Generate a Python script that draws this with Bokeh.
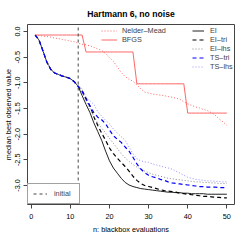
from bokeh.plotting import figure
from bokeh.models import Range1d, FixedTicker, Legend, LegendItem
from bokeh.embed import file_html
from bokeh.resources import INLINE

# ---------------- data ----------------
n_evals = list(range(1, 51))
n_init = 12

x_ticks = [0, 10, 20, 30, 40, 50]
x_tick_labels = ["0", "10", "20", "30", "40", "50"]
y_ticks = [-3.0, -2.5, -2.0, -1.5, -1.0, -0.5, 0.0]
y_tick_labels = ["-3.0", "-2.5", "-2.0", "-1.5", "-1.0", "-0.5", "0.0"]

nelder_mead = [-0.07, -0.08, -0.09, -0.10, -0.11, -0.13, -0.14, -0.16, -0.17, -0.19,
               -0.20, -0.23, -0.25, -0.26, -0.28, -0.31, -0.34, -0.37, -0.43, -0.51,
               -0.58, -0.69, -0.80, -0.88, -0.93, -0.97, -1.04, -1.12, -1.18, -1.20,
               -1.22, -1.23, -1.24, -1.25, -1.27, -1.28, -1.30, -1.32, -1.37, -1.41,
               -1.44, -1.47, -1.49, -1.52, -1.54, -1.58, -1.63, -1.70, -1.76, -1.83]

bfgs = [-0.07, -0.07, -0.07, -0.07, -0.07, -0.07, -0.07, -0.07, -0.07, -0.07,
        -0.07, -0.07, -0.07, -0.40, -0.40, -0.40, -0.40, -0.40, -0.40, -0.40,
        -0.40, -0.40, -0.40, -0.40, -0.40, -0.40, -1.02, -1.02, -1.02, -1.02,
        -1.02, -1.02, -1.02, -1.02, -1.02, -1.02, -1.02, -1.02, -1.02, -1.59,
        -1.59, -1.59, -1.59, -1.59, -1.59, -1.59, -1.59, -1.59, -1.59, -1.59]

initial_design = [-0.07, -0.17, -0.38, -0.60, -0.74, -0.81, -0.84, -0.87, -0.89, -0.92,
                  -0.98, -1.07]

ei_tail = [-1.25, -1.42, -1.58, -1.78, -1.95, -2.12, -2.33, -2.52, -2.66, -2.76,
           -2.86, -2.94, -2.99, -3.02, -3.04, -3.06, -3.07, -3.08, -3.09, -3.10,
           -3.11, -3.12, -3.13, -3.13, -3.14, -3.14, -3.15, -3.15, -3.16, -3.16,
           -3.16, -3.16, -3.17, -3.17, -3.17, -3.17, -3.17, -3.17]
ei_tri_tail = [-1.15, -1.30, -1.45, -1.66, -1.83, -1.98, -2.12, -2.27, -2.38, -2.47,
               -2.55, -2.63, -2.72, -2.82, -2.90, -2.96, -3.00, -3.02, -3.04, -3.06,
               -3.08, -3.10, -3.11, -3.12, -3.13, -3.15, -3.16, -3.17, -3.18, -3.19,
               -3.20, -3.21, -3.21, -3.22, -3.23, -3.23, -3.24, -3.24]
ei_lhs_tail = [-1.18, -1.35, -1.50, -1.66, -1.78, -1.88, -1.98, -2.08, -2.18, -2.28,
               -2.38, -2.46, -2.53, -2.59, -2.64, -2.68, -2.72, -2.75, -2.78, -2.80,
               -2.82, -2.84, -2.86, -2.87, -2.88, -2.89, -2.90, -2.91, -2.92, -2.93,
               -2.93, -2.94, -2.94, -2.95, -2.95, -2.96, -2.96, -2.96]
ts_tri_tail = [-1.17, -1.32, -1.45, -1.58, -1.67, -1.72, -1.80, -1.92, -2.03, -2.10,
               -2.16, -2.25, -2.33, -2.45, -2.58, -2.68, -2.75, -2.80, -2.83, -2.85,
               -2.88, -2.90, -2.93, -2.95, -2.96, -2.97, -2.98, -2.99, -3.00, -3.01,
               -3.02, -3.02, -3.03, -3.03, -3.03, -3.04, -3.04, -3.04]
ts_lhs_tail = [-1.12, -1.28, -1.35, -1.42, -1.56, -1.65, -1.73, -1.80, -1.90, -1.98,
               -2.05, -2.12, -2.25, -2.38, -2.48, -2.52, -2.54, -2.55, -2.58, -2.60,
               -2.62, -2.64, -2.66, -2.68, -2.72, -2.76, -2.80, -2.84, -2.86, -2.88,
               -2.89, -2.90, -2.91, -2.91, -2.92, -2.92, -2.93, -2.93]

ei = initial_design + ei_tail
ei_tri = initial_design + ei_tri_tail
ei_lhs = initial_design + ei_lhs_tail
ts_tri = initial_design + ts_tri_tail
ts_lhs = initial_design + ts_lhs_tail

# ---------------- figure ----------------
FONT = "Liberation Sans"
Y_LO, Y_HI = -3.37, 0.135

p = figure(width=236, height=236, output_backend="svg", toolbar_location=None,
           x_range=Range1d(-0.96, 51.96), y_range=Range1d(Y_LO, Y_HI),
           min_border_left=25, min_border_right=2, min_border_top=22, min_border_bottom=31)
p.grid.visible = False
p.outline_line_color = "#444444"
p.outline_line_width = 1
p.background_fill_color = "white"
p.border_fill_color = "white"

p.title.text = "Hartmann 6, no noise"
p.title.align = "center"
p.title.text_font = FONT
p.title.text_font_size = "8.6px"
p.title.text_font_style = "bold"
p.title.text_color = "black"
p.title.standoff = 12

p.xaxis.ticker = FixedTicker(ticks=x_ticks)
p.xaxis.major_label_overrides = dict(zip(x_ticks, x_tick_labels))
p.yaxis.ticker = FixedTicker(ticks=y_ticks)
p.yaxis.major_label_overrides = dict(zip(y_ticks, y_tick_labels))
p.yaxis.major_label_orientation = "vertical"

for ax in (p.xaxis[0], p.yaxis[0]):
    ax.axis_line_color = None
    ax.minor_tick_line_color = None
    ax.major_tick_in = 0
    ax.major_tick_out = 4
    ax.major_tick_line_color = "#444444"
    ax.major_label_text_font = FONT
    ax.major_label_text_font_size = "7.3px"
    ax.major_label_text_color = "black"
    ax.axis_label_text_font = FONT
    ax.axis_label_text_font_size = "7.3px"
    ax.axis_label_text_font_style = "normal"
    ax.axis_label_text_color = "black"

p.xaxis.axis_label = "n: blackbox evaluations"
p.xaxis.major_label_standoff = 5
p.xaxis.axis_label_standoff = 3
p.yaxis.axis_label = "median best observed value"
p.yaxis.major_label_standoff = 3
p.yaxis.axis_label_standoff = 0

RED = "#ff6666"
r_nm = p.line(n_evals, nelder_mead, line_color=RED, line_width=1, line_dash="1 2")
r_bfgs = p.line(n_evals, bfgs, line_color=RED, line_width=1)
r_init = p.line([n_init, n_init], [Y_LO, Y_HI], line_color="#444444", line_width=1, line_dash="3 3")
r_ei = p.line(n_evals, ei, line_color="#222222", line_width=1)
r_ei_tri = p.line(n_evals, ei_tri, line_color="black", line_width=1.2, line_dash="4 3")
r_ei_lhs = p.line(n_evals, ei_lhs, line_color="#888888", line_width=1, line_dash="1 2")
r_ts_lhs = p.line(n_evals, ts_lhs, line_color="#9090ff", line_width=1, line_dash="1 2")
r_ts_tri = p.line(n_evals, ts_tri, line_color="blue", line_width=1.2, line_dash="4 3")

common = dict(label_text_font=FONT, label_text_font_size="7.3px", margin=0,
              border_line_color=None, background_fill_alpha=0, spacing=0,
              glyph_height=9, label_height=9)

leg_local = Legend(items=[LegendItem(label="Nelder–Mead", renderers=[r_nm]),
                          LegendItem(label="BFGS", renderers=[r_bfgs])],
                   location=(74, 160), padding=0, glyph_width=16, label_standoff=5, **common)
leg_bo = Legend(items=[LegendItem(label="EI", renderers=[r_ei]),
                       LegendItem(label="EI–tri", renderers=[r_ei_tri]),
                       LegendItem(label="EI–lhs", renderers=[r_ei_lhs]),
                       LegendItem(label="TS–tri", renderers=[r_ts_tri]),
                       LegendItem(label="TS–lhs", renderers=[r_ts_lhs])],
                location=(165, 133), padding=0, glyph_width=12, label_standoff=6, **common)
common_init = dict(common)
common_init.update(border_line_color="#444444", background_fill_alpha=1,
                   background_fill_color="white")
leg_init = Legend(items=[LegendItem(label="initial", renderers=[r_init])],
                  location=(0, 0), padding=5, glyph_width=14, label_standoff=7, **common_init)
for lg in (leg_local, leg_bo, leg_init):
    p.add_layout(lg, "center")

open("out.html", "w").write(file_html(p, INLINE))
